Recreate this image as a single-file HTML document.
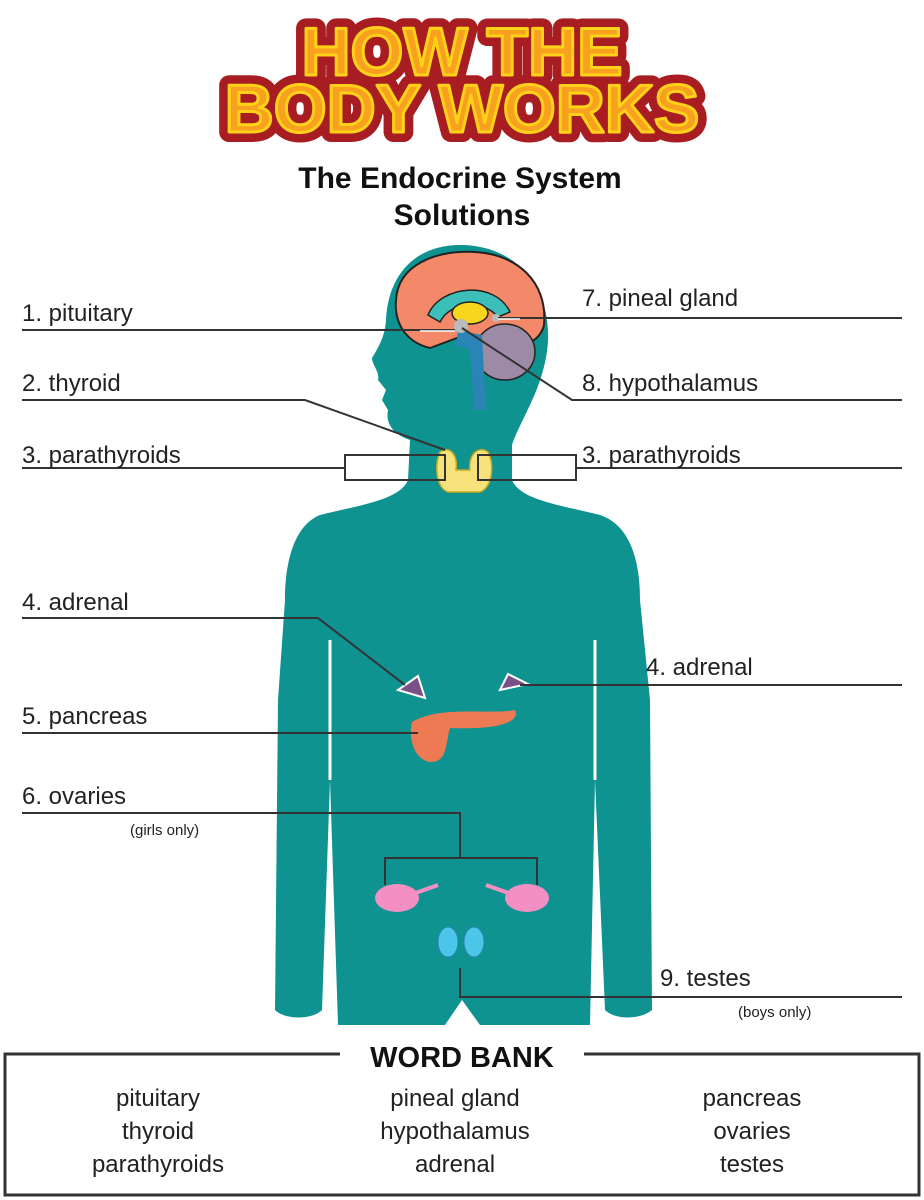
<!DOCTYPE html>
<html><head><meta charset="utf-8"><style>
body{margin:0;background:#fff;width:924px;height:1200px;overflow:hidden;position:relative;font-family:"Liberation Sans",sans-serif}
svg{position:absolute;left:0;top:0}
</style></head><body>
<svg width="924" height="1200" viewBox="0 0 924 1200">
<g font-family="Liberation Sans" font-weight="900" font-size="68" text-anchor="middle" stroke-linejoin="round">
<text x="462" y="75" fill="#a81d22" stroke="#a81d22" stroke-width="20">HOW THE</text>
<text x="462" y="132" fill="#a81d22" stroke="#a81d22" stroke-width="20">BODY WORKS</text>
<text x="462" y="75" fill="#f7a11f" stroke="#ffd21a" stroke-width="3">HOW THE</text>
<text x="462" y="132" fill="#f7a11f" stroke="#ffd21a" stroke-width="3">BODY WORKS</text>
</g>
<text x="460" y="188" text-anchor="middle" font-weight="bold" font-size="30" fill="#111">The Endocrine System</text>
<text x="462" y="225" text-anchor="middle" font-weight="bold" font-size="30" fill="#111">Solutions</text>
<path fill="#0e9390" d="M460 245 C515 245 550 285 548 340 C546 385 520 420 512 445 L512 480 C520 500 560 505 600 515 C630 525 640 560 640 600 L650 700 L652 1010 C640 1020 615 1020 605 1010 L595 780 L590 1025 L480 1025 L462 1000 L445 1025 L338 1025 L330 780 L322 1010 C312 1020 285 1020 275 1010 L278 700 L285 600 C285 560 295 525 320 515 C360 505 400 500 408 480 L410 440 C395 435 385 425 388 410 L382 400 L386 390 L378 380 C380 372 372 365 372 358 C380 345 385 335 386 320 C388 275 415 245 460 245 Z"/>
<path d="M330 640 L330 780 M595 640 L595 780" stroke="#fff" stroke-width="3" fill="none"/>
<path fill="#f4896a" stroke="#222" stroke-width="2" d="M396 300 C398 265 435 250 475 252 C515 254 548 280 544 325 C540 342 525 345 510 348 L465 335 L430 348 C405 342 394 322 396 300Z"/>
<ellipse cx="505" cy="352" rx="30" ry="28" fill="#9d8aa6" stroke="#222" stroke-width="1.5"/>
<path d="M428 315 C440 285 495 280 510 312 L498 317 C482 298 450 302 440 322Z" fill="#3dbfb9" stroke="#222" stroke-width="1.5"/>
<ellipse cx="470" cy="313" rx="18" ry="11" fill="#f6d51c" stroke="#222" stroke-width="1.5"/>
<path d="M458 330 L482 335 L486 410 L474 410 L470 350 L456 345Z" fill="#2a84b6"/>
<circle cx="461" cy="326" r="7" fill="#bbb"/>
<circle cx="496" cy="318" r="4" fill="#bbb"/>
<path d="M440 452 C450 445 458 455 456 470 L470 470 C468 455 478 445 488 452 C495 465 492 488 480 492 L448 492 C436 488 434 465 440 452Z" fill="#f8e27c" stroke="#c9a820" stroke-width="1.5"/>
<path d="M398 690 L418 676 L425 698Z" fill="#7b4f87" stroke="#fff" stroke-width="2"/>
<path d="M500 690 L508 674 L528 684Z" fill="#7b4f87" stroke="#fff" stroke-width="2"/>
<path d="M412 722 C440 705 490 715 515 710 C520 720 505 730 450 728 C445 745 448 762 430 762 C415 760 408 740 412 722Z" fill="#ee7a53"/>
<ellipse cx="397" cy="898" rx="22" ry="14" fill="#f48fc4"/>
<ellipse cx="527" cy="898" rx="22" ry="14" fill="#f48fc4"/>
<path d="M410 895 L438 885 M514 895 L486 885" stroke="#f48fc4" stroke-width="4"/>
<ellipse cx="448" cy="942" rx="10" ry="15" fill="#4cc6e8" stroke="#2a84b6"/>
<ellipse cx="474" cy="942" rx="10" ry="15" fill="#4cc6e8" stroke="#2a84b6"/>
<g stroke="#333" stroke-width="2" fill="none">
<path d="M22 330 L455 330"/>
<path d="M22 400 L305 400 L445 450"/>
<rect x="345" y="455" width="100" height="25"/>
<rect x="478" y="455" width="98" height="25"/>
<path d="M22 468 L345 468 M576 468 L902 468"/>
<path d="M22 618 L318 618 L405 685"/>
<path d="M520 685 L902 685"/>
<path d="M22 733 L418 733"/>
<path d="M22 813 L460 813 L460 858 M385 885 L385 858 L537 858 L537 885"/>
<path d="M460 968 L460 997 L902 997"/>
<path d="M498 318 L902 318"/>
<path d="M462 328 L572 400 L902 400"/>
</g>
<g stroke="#fff" stroke-width="1.5" fill="none">
<path d="M420 331 L455 331 M498 319 L520 319"/>
</g>
<g font-size="24" fill="#222">
<text x="22" y="321">1. pituitary</text>
<text x="22" y="391">2. thyroid</text>
<text x="22" y="463">3. parathyroids</text>
<text x="582" y="463">3. parathyroids</text>
<text x="22" y="610">4. adrenal</text>
<text x="646" y="675">4. adrenal</text>
<text x="22" y="724">5. pancreas</text>
<text x="22" y="804">6. ovaries</text>
<text x="582" y="306">7. pineal gland</text>
<text x="582" y="391">8. hypothalamus</text>
<text x="660" y="986">9. testes</text>
</g>
<text x="130" y="835" font-size="15" fill="#222">(girls only)</text>
<text x="738" y="1017" font-size="15" fill="#222">(boys only)</text>
<rect x="5" y="1054" width="914" height="141" fill="none" stroke="#333" stroke-width="3"/>
<rect x="340" y="1040" width="244" height="30" fill="#fff"/>
<text x="462" y="1067" text-anchor="middle" font-weight="bold" font-size="29" fill="#111">WORD BANK</text>
<g font-size="24" fill="#222" text-anchor="middle">
<text x="158" y="1106">pituitary</text><text x="158" y="1139">thyroid</text><text x="158" y="1172">parathyroids</text>
<text x="455" y="1106">pineal gland</text><text x="455" y="1139">hypothalamus</text><text x="455" y="1172">adrenal</text>
<text x="752" y="1106">pancreas</text><text x="752" y="1139">ovaries</text><text x="752" y="1172">testes</text>
</g>
</svg>
</body></html>
